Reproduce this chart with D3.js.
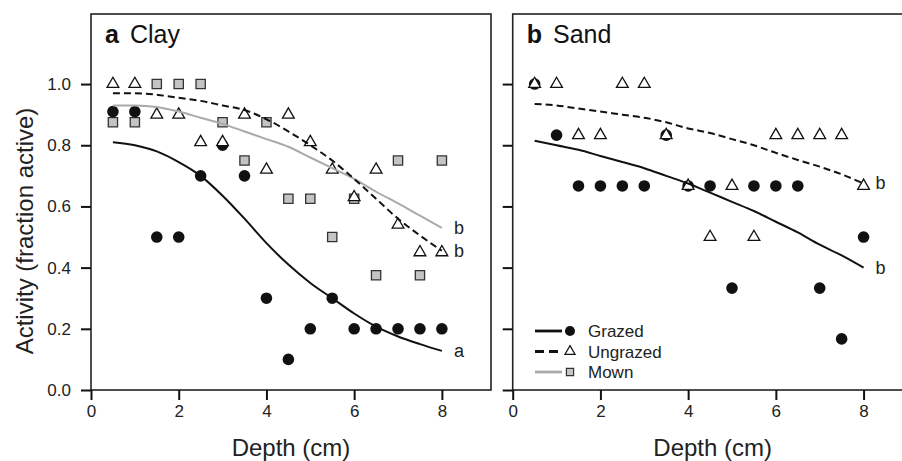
<!DOCTYPE html>
<html>
<head>
<meta charset="utf-8">
<script src="https://cdn.jsdelivr.net/npm/d3@7"></script>
<style>
  body { margin: 0; background: #fff; }
  svg { font-family: "Liberation Sans", Arial, sans-serif; }
  .tick text { font-size: 17px; fill: #222; }
</style>
</head>
<body>
<div id="chart"></div>
<script>
// depths sampled (cm)
var depths = [0.5, 1, 1.5, 2, 2.5, 3, 3.5, 4, 4.5, 5, 5.5, 6, 6.5, 7, 7.5, 8];

// observed activity, clay
var clayGrazed   = [0.91, 0.91, 0.5, 0.5, 0.7, 0.8, 0.7, 0.3, 0.1, 0.2, 0.3, 0.2, 0.2, 0.2, 0.2, 0.2];
var clayUngrazed = [1.0, 1.0, 0.9, 0.9, 0.81, 0.81, 0.9, 0.72, 0.9, 0.81, 0.72, 0.63, 0.72, 0.54, 0.45, 0.45];
var clayMown     = [0.875, 0.875, 1.0, 1.0, 1.0, 0.875, 0.75, 0.875, 0.625, 0.625, 0.5, 0.625, 0.375, 0.75, 0.375, 0.75];

// observed activity, sand
var sandGrazed   = [1.0, 0.833, 0.667, 0.667, 0.667, 0.667, 0.833, 0.667, 0.667, 0.333, 0.667, 0.667, 0.667, 0.333, 0.167, 0.5];
var sandUngrazed = [1.0, 1.0, 0.833, 0.833, 1.0, 1.0, 0.833, 0.667, 0.5, 0.667, 0.5, 0.833, 0.833, 0.833, 0.833, 0.667];

// fitted curves
var clayGrazedFit   = [0.81, 0.80, 0.78, 0.745, 0.70, 0.635, 0.56, 0.48, 0.41, 0.35, 0.30, 0.25, 0.207, 0.175, 0.15, 0.128];
var clayUngrazedFit = [0.97, 0.97, 0.965, 0.955, 0.945, 0.93, 0.915, 0.885, 0.845, 0.80, 0.75, 0.69, 0.625, 0.56, 0.505, 0.455];
var clayMownFit     = [0.93, 0.93, 0.925, 0.91, 0.89, 0.87, 0.845, 0.82, 0.795, 0.76, 0.725, 0.69, 0.648, 0.61, 0.57, 0.53];
var sandGrazedFit   = [0.815, 0.80, 0.785, 0.765, 0.745, 0.725, 0.70, 0.675, 0.645, 0.615, 0.585, 0.55, 0.515, 0.475, 0.44, 0.40];
var sandUngrazedFit = [0.935, 0.93, 0.92, 0.91, 0.90, 0.89, 0.875, 0.855, 0.84, 0.82, 0.80, 0.775, 0.752, 0.73, 0.705, 0.675];

var xTicks = [0, 2, 4, 6, 8];
var yTicks = [0, 0.2, 0.4, 0.6, 0.8, 1.0];

var W = 902, H = 461;
var plotTop = 14, plotBottom = 390, pw = 400;
var panels = [
  {left: 91, letter: "a", name: "Clay", sets: [
      {obs: clayGrazed, fit: clayGrazedFit, kind: "grazed", tag: "a"},
      {obs: clayMown, fit: clayMownFit, kind: "mown", tag: "b"},
      {obs: clayUngrazed, fit: clayUngrazedFit, kind: "ungrazed", tag: "b"}
    ], labels: true},
  {left: 512.7, letter: "b", name: "Sand", sets: [
      {obs: sandGrazed, fit: sandGrazedFit, kind: "grazed", tag: "b"},
      {obs: sandUngrazed, fit: sandUngrazedFit, kind: "ungrazed", tag: "b"}
    ], labels: false}
];

var styles = {
  grazed:   {stroke: "#111", dash: null, symbol: d3.symbolCircle, size: 106, fill: "#111", mstroke: "none"},
  ungrazed: {stroke: "#111", dash: "7,4", symbol: d3.symbolTriangle, size: 60, fill: "#fff", mstroke: "#111"},
  mown:     {stroke: "#aaaaaa", dash: null, symbol: d3.symbolSquare, size: 86, fill: "#c4c4c4", mstroke: "#333"}
};

var svg = d3.select("#chart").append("svg").attr("width", W).attr("height", H);

var y = d3.scaleLinear().domain([0, 1.229]).range([plotBottom, plotTop]);

panels.forEach(function (p) {
  var x = d3.scaleLinear().domain([0, 9.12]).range([p.left, p.left + pw]);
  var g = svg.append("g");

  // frame
  g.append("rect").attr("x", p.left).attr("y", plotTop).attr("width", pw).attr("height", plotBottom - plotTop)
    .attr("fill", "none").attr("stroke", "#222").attr("stroke-width", 1.6);

  // axes
  var xa = g.append("g").attr("transform", "translate(0," + plotBottom + ")")
    .call(d3.axisBottom(x).tickValues(xTicks).tickSize(10).tickPadding(5).tickFormat(d3.format("d")));
  var ya = g.append("g").attr("transform", "translate(" + p.left + ",0)")
    .call(d3.axisLeft(y).tickValues(yTicks).tickSize(10).tickPadding(10)
      .tickFormat(p.labels ? d3.format(".1f") : function () { return ""; }));
  [xa, ya].forEach(function (a) {
    a.attr("font-family", null).attr("font-size", null);
    a.select(".domain").remove();
    a.selectAll(".tick line").attr("stroke", "#111").attr("stroke-width", 2);
  });

  // points: mown, grazed, then ungrazed on top
  ["mown", "grazed", "ungrazed"].forEach(function (k) {
    p.sets.filter(function (s) { return s.kind === k; }).forEach(function (s) {
      var st = styles[k];
      g.append("g").selectAll("path").data(s.obs).join("path")
        .attr("transform", function (d, i) { return "translate(" + x(depths[i]) + "," + y(d) + ")"; })
        .attr("d", d3.symbol().type(st.symbol).size(st.size))
        .attr("fill", st.fill).attr("stroke", st.mstroke).attr("stroke-width", 1.3);
    });
  });

  // fitted curves
  var line = d3.line().x(function (d, i) { return x(depths[i]); }).y(function (d) { return y(d); })
    .curve(d3.curveMonotoneX);
  p.sets.forEach(function (s) {
    var st = styles[s.kind];
    g.append("path").datum(s.fit).attr("d", line).attr("fill", "none")
      .attr("stroke", st.stroke).attr("stroke-width", 2).attr("stroke-dasharray", st.dash);
    g.append("text").attr("x", x(8) + 12).attr("y", y(s.fit[s.fit.length - 1]) + 6)
      .attr("font-size", 18).attr("fill", "#222").text(s.tag);
  });

  // panel title
  var t = g.append("text").attr("x", p.left + 14).attr("y", 43).attr("font-size", 25).attr("fill", "#111");
  t.append("tspan").attr("font-weight", "bold").text(p.letter);
  t.append("tspan").attr("dx", 11).text(p.name);

  // x title, centred on the panel
  g.append("text").attr("x", p.left + pw / 2).attr("y", 456).attr("text-anchor", "middle")
    .attr("font-size", 24).attr("fill", "#222").text("Depth (cm)");
});

// y title
svg.append("text").attr("transform", "translate(33,231) rotate(-90)").attr("text-anchor", "middle")
  .attr("font-size", 24).attr("fill", "#222").text("Activity (fraction active)");

// legend (inside panel b)
var legendKinds = ["grazed", "ungrazed", "mown"];
var legendNames = ["Grazed", "Ungrazed", "Mown"];
var lg = svg.append("g");
legendKinds.forEach(function (k, i) {
  var st = styles[k];
  var cy = 331 + i * 20.5;
  lg.append("line").attr("x1", 535).attr("x2", 562).attr("y1", cy).attr("y2", cy)
    .attr("stroke", st.stroke).attr("stroke-width", 2.8).attr("stroke-dasharray", st.dash ? "9,5" : null);
  lg.append("path").attr("transform", "translate(570," + cy + ")")
    .attr("d", d3.symbol().type(st.symbol).size(st.size * (k === "mown" ? 0.6 : 0.75)))
    .attr("fill", st.fill).attr("stroke", st.mstroke).attr("stroke-width", 1.2);
  lg.append("text").attr("x", 588).attr("y", cy + 6).attr("font-size", 17).attr("fill", "#222").text(legendNames[i]);
});
</script>
</body>
</html>
